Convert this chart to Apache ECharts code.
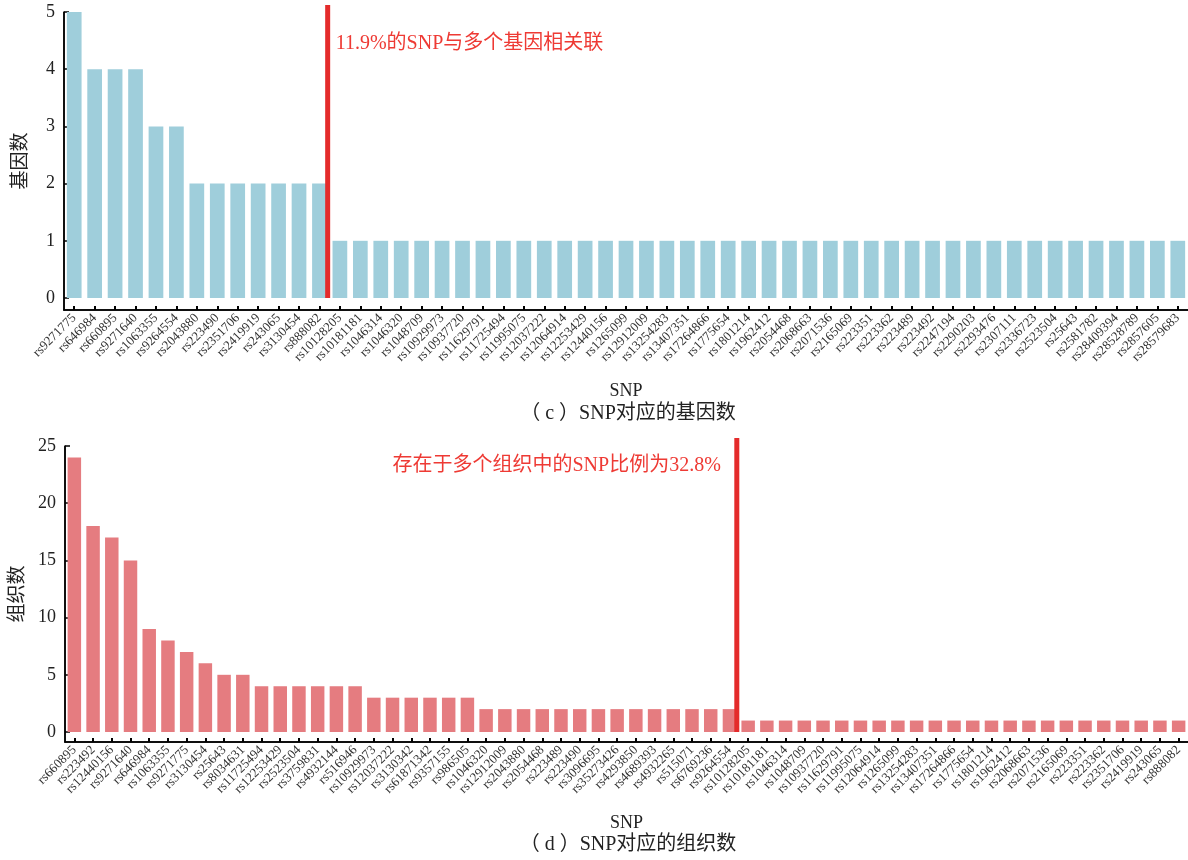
<!DOCTYPE html>
<html>
<head>
<meta charset="utf-8">
<script src="https://cdn.jsdelivr.net/npm/echarts@6/dist/echarts.min.js"></script>
<style>
  html, body { margin: 0; padding: 0; background: #fff; }
  #chart { width: 1188px; height: 860px; }
</style>
</head>
<body>
<div id="chart"></div>
<script>
// (c) number of genes linked to each SNP
const geneSnps = [
  'rs9271775', 'rs646984', 'rs660895', 'rs9271640', 'rs1063355', 'rs9264554', 'rs2043880',
  'rs223490', 'rs2351706', 'rs2419919', 'rs243065', 'rs3130454', 'rs888082', 'rs10128205',
  'rs10181181', 'rs1046314', 'rs1046320', 'rs1048709', 'rs10929973', 'rs10937720', 'rs11629791',
  'rs11725494', 'rs11995075', 'rs12037222', 'rs12064914', 'rs12253429', 'rs12440156', 'rs1265099',
  'rs12912009', 'rs13254283', 'rs13407351', 'rs17264866', 'rs1775654', 'rs1801214', 'rs1962412',
  'rs2054468', 'rs2068663', 'rs2071536', 'rs2165069', 'rs223351', 'rs223362', 'rs223489',
  'rs223492', 'rs2247194', 'rs2290203', 'rs2293476', 'rs2307111', 'rs2336723', 'rs2523504',
  'rs25643', 'rs2581782', 'rs28409394', 'rs28528789', 'rs2857605', 'rs28579683'
];
const geneCounts = [
  5, 4, 4, 4, 3, 3, 2, 2, 2, 2, 2, 2, 2, 1,
  1, 1, 1, 1, 1, 1, 1, 1, 1, 1, 1, 1, 1, 1,
  1, 1, 1, 1, 1, 1, 1, 1, 1, 1, 1, 1, 1, 1,
  1, 1, 1, 1, 1, 1, 1, 1, 1, 1, 1, 1, 1
];
const geneTicks = [0, 1, 2, 3, 4, 5];

// (d) number of tissues each SNP appears in
const tissueSnps = [
  'rs660895', 'rs223492', 'rs12440156', 'rs9271640', 'rs646984', 'rs1063355', 'rs9271775',
  'rs3130454', 'rs25643', 'rs8034631', 'rs11725494', 'rs12253429', 'rs2523504', 'rs3759831',
  'rs4932144', 'rs516946', 'rs10929973', 'rs12037222', 'rs3130342', 'rs61871342', 'rs9357155',
  'rs986505', 'rs1046320', 'rs12912009', 'rs2043880', 'rs2054468', 'rs223489', 'rs223490',
  'rs3096695', 'rs35273426', 'rs4293850', 'rs4689393', 'rs4932265', 'rs515071', 'rs6769236',
  'rs9264554', 'rs10128205', 'rs10181181', 'rs1046314', 'rs1048709', 'rs10937720', 'rs11629791',
  'rs11995075', 'rs12064914', 'rs1265099', 'rs13254283', 'rs13407351', 'rs17264866', 'rs1775654',
  'rs1801214', 'rs1962412', 'rs2068663', 'rs2071536', 'rs2165069', 'rs223351', 'rs223362',
  'rs2351706', 'rs2419919', 'rs243065', 'rs888082'
];
const tissueCounts = [
  24, 18, 17, 15, 9, 8, 7,
  6, 5, 5, 4, 4, 4, 4,
  4, 4, 3, 3, 3, 3, 3,
  3, 2, 2, 2, 2, 2, 2,
  2, 2, 2, 2, 2, 2, 2,
  2, 1, 1, 1, 1, 1, 1,
  1, 1, 1, 1, 1, 1, 1,
  1, 1, 1, 1, 1, 1, 1,
  1, 1, 1, 1
];
const tissueTicks = [0, 5, 10, 15, 20, 25];

const geneNote = '11.9%的SNP与多个基因相关联';
const tissueNote = '存在于多个组织中的SNP比例为32.8%';
const geneCaption = '（ c ）SNP对应的基因数';
const tissueCaption = '（ d ）SNP对应的组织数';

const SERIF = '"Liberation Serif", "Times New Roman", "Noto Sans CJK SC", serif';
const RED = '#e42b2b';
const INK = '#000';

// Panel layout: the x-axis line sits a few pixels below the zero level,
// so the value axis is extended slightly below 0 to leave that gap.
const panels = [
  { cats: geneSnps, vals: geneCounts, ticks: geneTicks, name: '基因数', color: '#9fcedb',
    note: geneNote, noteSide: 'right', noteDy: 32, lineOver: 7,
    grid: { left: 64, right: 0, top: 12, height: 298 }, gapPx: 12 },
  { cats: tissueSnps, vals: tissueCounts, ticks: tissueTicks, name: '组织数', color: '#e57c80',
    note: tissueNote, noteSide: 'left', noteDy: 20, lineOver: 8,
    grid: { left: 65, right: 0, top: 446, height: 296 }, gapPx: 10 }
];

const grids = [], xAxes = [], yAxes = [], series = [];

panels.forEach((p, i) => {
  p.max = p.ticks[p.ticks.length - 1];
  p.min = -p.max * p.gapPx / (p.grid.height - p.gapPx);
  grids.push(Object.assign({ outerBoundsMode: 'none' }, p.grid));

  xAxes.push({
    type: 'category', gridIndex: i, data: p.cats,
    name: 'SNP', nameLocation: 'middle', nameGap: 72,
    nameTextStyle: { fontFamily: SERIF, fontSize: 18, color: '#222' },
    axisLine: { show: true, onZero: false, lineStyle: { color: INK, width: 1.5 } },
    axisTick: { show: true, inside: true, alignWithLabel: true, length: 4, lineStyle: { color: INK, width: 2 } },
    axisLabel: { interval: 0, rotate: 45, margin: 6, fontFamily: SERIF, fontSize: 13, color: '#333' }
  });

  yAxes.push({
    type: 'value', gridIndex: i, min: p.min, max: p.max,
    name: p.name, nameLocation: 'middle', nameRotate: 90, nameGap: 33,
    nameTextStyle: { fontFamily: SERIF, fontSize: 19, color: '#222' },
    axisLine: { show: true, lineStyle: { color: INK, width: 1.5 } },
    axisTick: { show: true, inside: true, length: 5, customValues: p.ticks, lineStyle: { color: INK, width: 1.5 } },
    axisLabel: { customValues: p.ticks, margin: 9, fontFamily: SERIF, fontSize: 18, color: '#222' },
    splitLine: { show: false }
  });

  series.push({
    type: 'bar', xAxisIndex: i, yAxisIndex: i, data: p.vals,
    barCategoryGap: '28%',
    itemStyle: { color: p.color },
    emphasis: { disabled: true }
  });

  // Red divider after the last SNP whose count is above 1, with its note
  const lastMulti = p.vals.filter(v => v > 1).length - 1;
  series.push({
    type: 'custom', xAxisIndex: i, yAxisIndex: i, clip: false, z: 5,
    data: [[lastMulti, p.max]],
    renderItem: function (params, api) {
      const band = api.size([1, 0])[0];
      const base = api.coord([api.value(0), 0]);
      const peak = api.coord([api.value(0), api.value(1)]);
      const x = base[0] + band / 2 - 2;
      const onRight = p.noteSide === 'right';
      return {
        type: 'group',
        children: [
          { type: 'line', shape: { x1: x, y1: base[1], x2: x, y2: peak[1] - p.lineOver },
            style: { stroke: RED, lineWidth: 5 } },
          { type: 'text',
            style: { text: p.note, x: onRight ? x + 8 : x - 16, y: peak[1] + p.noteDy,
                     align: onRight ? 'left' : 'right', verticalAlign: 'middle',
                     fill: '#ee3a34', font: '20px ' + SERIF } }
        ]
      };
    }
  });
});

const captions = [
  { type: 'text', x: 628, y: 414,
    style: { text: geneCaption, align: 'center', verticalAlign: 'middle', fill: '#222', font: '20px ' + SERIF } },
  { type: 'text', x: 628, y: 845,
    style: { text: tissueCaption, align: 'center', verticalAlign: 'middle', fill: '#222', font: '20px ' + SERIF } }
];

const chart = echarts.init(document.getElementById('chart'));
chart.setOption({
  animation: false,
  grid: grids,
  xAxis: xAxes,
  yAxis: yAxes,
  series: series,
  graphic: captions
});

// L-shaped axis frame for each panel, positioned through each bar series' own axes
const frames = [];
panels.forEach((p, i) => {
  const finder = { seriesIndex: i * 2 };
  const first = chart.convertToPixel(finder, [0, 0]);
  const second = chart.convertToPixel(finder, [1, 0]);
  const last = chart.convertToPixel(finder, [p.cats.length - 1, 0]);
  const band = second[0] - first[0];
  const left = first[0] - band / 2;
  const right = last[0] + band / 2;
  const top = chart.convertToPixel(finder, [0, p.max])[1];
  const bottom = chart.convertToPixel(finder, [0, p.min])[1];
  frames.push({
    type: 'polyline', z: 20, silent: true,
    shape: { points: [[left, top], [left, bottom], [right, bottom]] },
    style: { stroke: INK, lineWidth: 1.5, fill: null }
  });
});
chart.setOption({ graphic: captions.concat(frames) });
</script>
</body>
</html>
